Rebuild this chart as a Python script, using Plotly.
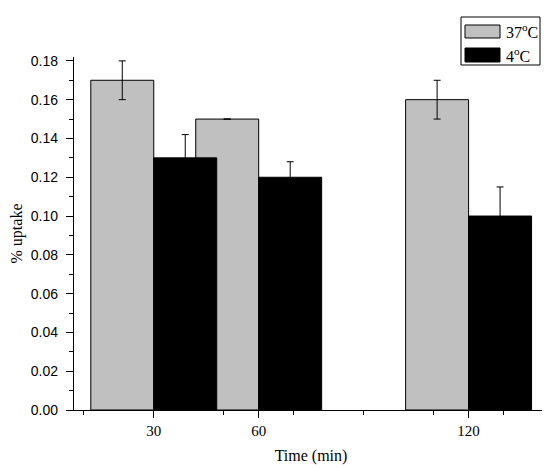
import plotly.graph_objects as go

# data
TIMES = [30, 60, 120]
UPTAKE_37 = [0.17, 0.15, 0.16]
ERR_37 = [0.01, 0.0, 0.01]
UPTAKE_4 = [0.13, 0.12, 0.10]
ERR_4 = [0.012, 0.008, 0.015]

SERIF = "Liberation Serif, Times New Roman, serif"
SANS = "Liberation Sans, Arial, sans-serif"

# plot box in pixels (550x468 page)
L, R, T, B = 66, 540, 49, 402
W, H = 550, 468
XRANGE = [7.2, 142.7]


def px(x):
    return (x - L) / (R - L)


def py(y):
    return (B - y) / (B - T)


fig = go.Figure()
fig.add_trace(go.Bar(
    x=TIMES, y=UPTAKE_37, name="37<sup>o</sup>C",
    offset=-18, width=18,
    marker=dict(color="#c0c0c0", line=dict(color="black", width=1)),
    error_y=dict(type="data", array=ERR_37, visible=True,
                 color="black", thickness=1, width=3.5),
))
fig.add_trace(go.Bar(
    x=TIMES, y=UPTAKE_4, name="4<sup>o</sup>C",
    offset=0, width=18,
    marker=dict(color="black", line=dict(color="black", width=1)),
    error_y=dict(type="data", array=ERR_4, visible=True,
                 color="black", thickness=1, width=3.5),
))

tick = dict(ticks="outside", tickwidth=1.3, tickcolor="black")
fig.update_xaxes(
    range=XRANGE, showgrid=False, zeroline=False, automargin=False,
    showline=True, linecolor="black", linewidth=1.3,
    tickmode="array", tickvals=TIMES, ticklen=7, **tick,
    tickfont=dict(family=SERIF, size=15, color="black"),
    minor=dict(tickmode="array", tickvals=[10, 50, 70, 90, 110, 130],
               ticklen=4, **tick),
    title=dict(text="Time (min)", standoff=11,
               font=dict(family=SERIF, size=16, color="black")),
)
# unlabelled long ticks at the other multiples of 20
fig.update_layout(xaxis2=dict(
    overlaying="x", anchor="y", side="bottom", range=XRANGE,
    automargin=False,
    showgrid=False, zeroline=False, showline=False, showticklabels=False,
    tickmode="array", tickvals=[20, 40, 80, 100, 140], ticklen=7, **tick,
))
fig.update_yaxes(
    range=[0, 0.182], showgrid=False, zeroline=False, automargin=False,
    showline=True, linecolor="black", linewidth=1.3,
    tickmode="linear", tick0=0, dtick=0.02, tickformat=".2f",
    ticklen=7, ticklabelstandoff=5, **tick,
    tickfont=dict(family=SANS, size=14, color="black"),
    minor=dict(dtick=0.01, ticklen=4, **tick),
    title=dict(text="% uptake", standoff=13,
               font=dict(family=SERIF, size=16, color="black")),
)

# legend box drawn by hand (Origin-style wide swatches)
fig.add_shape(type="rect", xref="paper", yref="paper",
              x0=px(453), x1=px(532), y0=py(9), y1=py(57),
              line=dict(color="black", width=1), fillcolor="white")
fig.add_shape(type="rect", xref="paper", yref="paper",
              x0=px(457), x1=px(492), y0=py(17), y1=py(30),
              line=dict(color="black", width=1), fillcolor="#c0c0c0")
fig.add_shape(type="rect", xref="paper", yref="paper",
              x0=px(457), x1=px(492), y0=py(40), y1=py(54),
              line=dict(color="black", width=1), fillcolor="black")
for label, yc in (("37<sup>o</sup>C", 23.5), ("4<sup>o</sup>C", 47.5)):
    fig.add_annotation(text=label, xref="paper", yref="paper",
                       x=px(496), y=py(yc), xanchor="left", yanchor="middle",
                       showarrow=False,
                       font=dict(family=SERIF, size=16, color="black"))

fig.update_layout(
    width=W, height=H, autosize=False,
    margin=dict(l=L, r=W - R, t=T, b=H - B, pad=0),
    barmode="overlay", showlegend=False,
    plot_bgcolor="white", paper_bgcolor="white",
)
fig.write_html("out.html")
